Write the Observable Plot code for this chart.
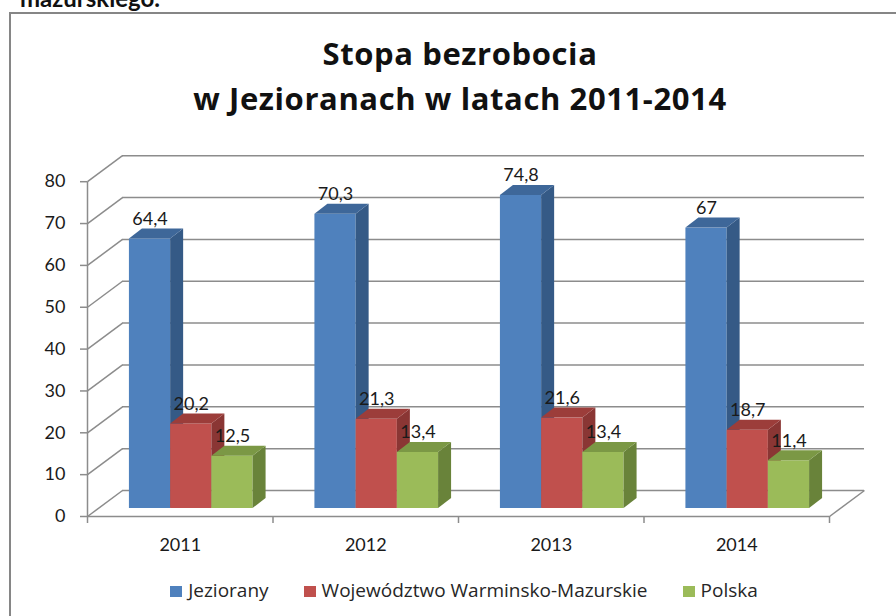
<!DOCTYPE html>
<html>
<head>
<meta charset="utf-8">
<script src="https://cdn.jsdelivr.net/npm/d3@7"></script>
<script src="https://cdn.jsdelivr.net/npm/@observablehq/plot@0.6"></script>
<style>
  html, body { margin: 0; padding: 0; background: #fff; }
  #page { position: relative; width: 896px; height: 616px; overflow: hidden; font-family: Lato, sans-serif; color: #1a1a1a; }
  #cut { position: absolute; right: 736px; top: -14px; font: bold 24px/24px Lato, sans-serif; white-space: nowrap; color: #111; }
  #frame { position: absolute; left: 9px; top: 12px; width: 1000px; height: 800px; border: 2px solid #868686; box-sizing: border-box; }
  .title { position: absolute; left: 0; width: 920px; text-align: center; font: bold 31px/31px "Open Sans", sans-serif; letter-spacing: 0.6px; color: #111; white-space: nowrap; }
  #chart { position: absolute; left: 0; top: 130px; }
  #legend { position: absolute; left: 0; width: 928px; top: 581px; display: flex; justify-content: center; gap: 35px; font: 19px/19px "Open Sans", sans-serif; color: #262626; white-space: nowrap; }
  #legend .sw { display: inline-block; width: 12px; height: 11px; margin-right: 6px; }
</style>
</head>
<body>
<div id="page">
  <div id="cut">mazurskiego.</div>
  <div id="frame"></div>
  <div class="title" id="t1" style="top:37.5px">Stopa bezrobocia</div>
  <div class="title" id="t2" style="top:82.5px">w Jezioranach w latach 2011-2014</div>
  <div id="chart"></div>
  <div id="legend"></div>
</div>
<script>
// ---- data ----
const years = ["2011", "2012", "2013", "2014"];
const seriesNames = ["Jeziorany", "Województwo Warminsko-Mazurskie", "Polska"];
const jeziorany = [64.4, 70.3, 74.8, 67];
const warminsko = [20.2, 21.3, 21.6, 18.7];
const polska = [12.5, 13.4, 13.4, 11.4];
const yTicks = [0, 10, 20, 30, 40, 50, 60, 70, 80];

// ---- style ----
const frontColors = ["#4F81BD", "#C0504D", "#9BBB59"];
const sideColors = ["#355a86", "#8a3634", "#69833a"];
const topColors = ["#3e6799", "#9c3d3a", "#7b9845"];
const gridColor = "#8c8c8c";
const textColor = "#1a1a1a";

const values = [jeziorany, warminsko, polska];
const kx = 185.5;   // px per category unit
const ky = 4.185;   // px per value unit
const gapWidth = 1.5;
const bw = 1 / (values.length + gapWidth);
// oblique depth offsets (pixels)
const FRONT = {dx: -11, dy: 8};
const BACK = {dx: 24, dy: -18};
const DEPTH = {dx: 13, dy: 10};
const dX = DEPTH.dx / kx, dY = DEPTH.dy / ky;

const bars = [];
values.forEach((vals, s) => vals.forEach((v, c) => {
  const x1 = c + (gapWidth / 2 + s) * bw;
  bars.push({s, c, v, x1, x2: x1 + bw, label: String(v).replace(".", ",")});
}));
const sides = bars.flatMap((b, k) => [
  {k, s: b.s, x: b.x2, y1: 0, y2: b.v},
  {k, s: b.s, x: b.x2 + dX, y1: dY, y2: b.v + dY}
]);
const tops = bars.flatMap((b, k) => [
  {k, s: b.s, y: b.v, x1: b.x1, x2: b.x2},
  {k, s: b.s, y: b.v + dY, x1: b.x1 + dX, x2: b.x2 + dX}
]);

const line = {stroke: gridColor, strokeWidth: 1.5};
const marks = [
  // back wall gridlines
  Plot.ruleY(yTicks, {y: d => d, x1: 0, x2: years.length, dx: BACK.dx, dy: BACK.dy, ...line}),
  // side wall diagonals
  Plot.link(yTicks, {x1: FRONT.dx / kx, y1: d => d - FRONT.dy / ky, x2: BACK.dx / kx, y2: d => d - BACK.dy / ky, ...line}),
  // floor right edge
  Plot.link([years.length], {x1: d => d + FRONT.dx / kx, y1: -FRONT.dy / ky, x2: d => d + BACK.dx / kx, y2: -BACK.dy / ky, ...line}),
  // front axis
  Plot.ruleX([0], {y1: 0, y2: 80, dx: FRONT.dx, dy: FRONT.dy, ...line}),
  Plot.ruleY(yTicks, {y: d => d, x1: -7 / kx, x2: 0, dx: FRONT.dx, dy: FRONT.dy, ...line}),
  Plot.ruleY([0], {x1: 0, x2: years.length, dx: FRONT.dx, dy: FRONT.dy, ...line}),
  Plot.ruleX(d3.range(years.length + 1), {x: d => d, y1: 0, y2: -7 / ky, dx: FRONT.dx, dy: FRONT.dy, ...line}),
];
values.forEach((_, s) => {
  marks.push(
    Plot.rect(bars.filter(b => b.s === s), {x1: "x1", x2: "x2", y1: 0, y2: "v", fill: frontColors[s]}),
    Plot.areaY(sides.filter(b => b.s === s), {x: "x", y1: "y1", y2: "y2", z: "k", fill: sideColors[s]}),
    Plot.areaX(tops.filter(b => b.s === s), {y: "y", x1: "x1", x2: "x2", z: "k", fill: topColors[s]})
  );
});
marks.push(
  Plot.text(yTicks, {x: 0, y: d => d, text: d => String(d), textAnchor: "end", dx: -33, dy: FRONT.dy, fontSize: 18, fill: textColor}),
  Plot.text(years, {x: (d, i) => i + 0.5, y: 0, text: d => d, dx: FRONT.dx, dy: FRONT.dy + 29, fontSize: 18, fill: textColor}),
  Plot.text(bars, {x: b => (b.x1 + b.x2) / 2, y: "v", text: "label", dy: -20, fontSize: 18, fill: textColor})
);

const chart = Plot.plot({
  width: 896,
  height: 430,
  margin: 0,
  style: {fontFamily: "Lato, sans-serif", fontSize: "18px", background: "transparent", overflow: "visible"},
  x: {domain: [0, years.length], range: [98, 98 + kx * years.length], axis: null},
  y: {domain: [0, 80], range: [378, 378 - 80 * ky], axis: null},
  marks
});
document.getElementById("chart").appendChild(chart);

// legend
const legend = document.getElementById("legend");
seriesNames.forEach((name, i) => {
  const item = document.createElement("span");
  const sw = document.createElement("span");
  sw.className = "sw";
  sw.style.background = frontColors[i];
  item.appendChild(sw);
  item.appendChild(document.createTextNode(name));
  legend.appendChild(item);
});
</script>
</body>
</html>
